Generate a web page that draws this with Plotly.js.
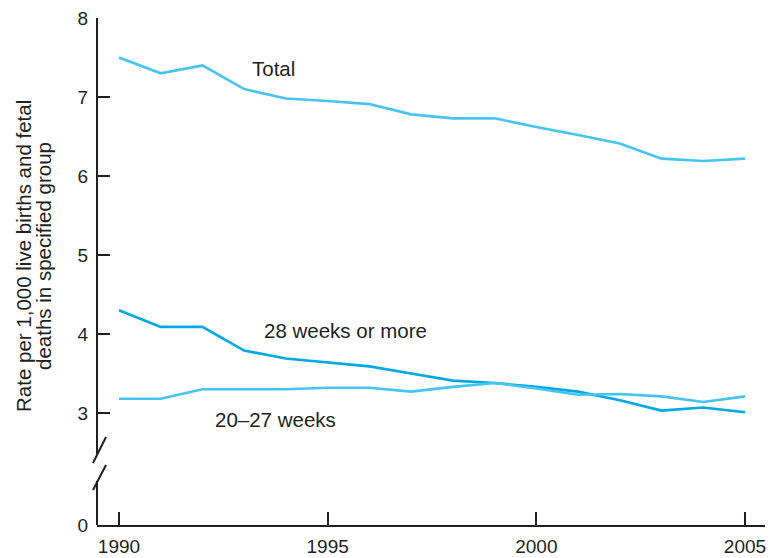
<!DOCTYPE html>
<html>
<head>
<meta charset="utf-8">
<script src="https://cdn.plot.ly/plotly-3.0.1.min.js"></script>
<style>
  html, body { margin: 0; padding: 0; background: #ffffff; }
  #chart { width: 770px; height: 558px; }
</style>
</head>
<body>
<div id="chart"></div>
<script>
// ---- data ----
const years = [1990, 1991, 1992, 1993, 1994, 1995, 1996, 1997, 1998, 1999, 2000, 2001, 2002, 2003, 2004, 2005];
const total = [7.50, 7.30, 7.40, 7.10, 6.98, 6.95, 6.91, 6.78, 6.73, 6.73, 6.62, 6.52, 6.41, 6.22, 6.19, 6.22];
const weeks28plus = [4.30, 4.09, 4.09, 3.79, 3.69, 3.64, 3.59, 3.50, 3.41, 3.38, 3.33, 3.27, 3.16, 3.03, 3.07, 3.01];
const weeks20to27 = [3.18, 3.18, 3.30, 3.30, 3.30, 3.32, 3.32, 3.27, 3.33, 3.38, 3.31, 3.23, 3.24, 3.21, 3.14, 3.21];

const seriesNames = ["Total", "28 weeks or more", "20\u201327 weeks"];
const xTickVals = [1990, 1995, 2000, 2005];
const xTickText = ["1990", "1995", "2000", "2005"];
// broken y axis: "0" is drawn just below the break
const zeroPos = 1.582;
const yTickVals = [zeroPos, 3, 4, 5, 6, 7, 8];
const yTickText = ["0", "3", "4", "5", "6", "7", "8"];
const yTitleLines = ["Rate per 1,000 live births and fetal", "deaths in specified group"];

const light = "#45C4F1";
const dark = "#00A8E6";
const ink = "#231F20";
const fontFam = "Liberation Sans, Arial, Helvetica, sans-serif";

const traces = [
  { x: years, y: total, name: seriesNames[0], mode: "lines", line: { color: light, width: 2.6 } },
  { x: years, y: weeks28plus, name: seriesNames[1], mode: "lines", line: { color: dark, width: 2.6 } },
  { x: years, y: weeks20to27, name: seriesNames[2], mode: "lines", line: { color: light, width: 2.6 } }
];

// plot-area geometry helpers (paper coords)
const L = 97, R = 765, T = 18, B = 525;
const px = v => (v - L) / (R - L);
const py = v => (B - v) / (B - T);

const axisLine = { color: ink, width: 2 };
const shapes = [
  { type: "line", xref: "paper", yref: "paper", x0: 0, x1: 0, y0: py(T), y1: py(454), line: axisLine },
  { type: "line", xref: "paper", yref: "paper", x0: 0, x1: 0, y0: py(481), y1: py(B), line: axisLine },
  { type: "line", xref: "paper", yref: "paper", x0: px(93), x1: px(106), y0: py(463), y1: py(437), line: axisLine },
  { type: "line", xref: "paper", yref: "paper", x0: px(93), x1: px(106), y0: py(490), y1: py(465), line: axisLine }
];

const annotations = [
  { x: 1993.14, y: 7.36, xref: "x", yref: "y", text: seriesNames[0], showarrow: false, xanchor: "left", yanchor: "middle", font: { size: 20.5, color: ink, family: fontFam } },
  { x: 1993.43, y: 4.05, xref: "x", yref: "y", text: seriesNames[1], showarrow: false, xanchor: "left", yanchor: "middle", font: { size: 20.5, color: ink, family: fontFam } },
  { x: 1992.26, y: 2.92, xref: "x", yref: "y", text: seriesNames[2], showarrow: false, xanchor: "left", yanchor: "middle", font: { size: 20.5, color: ink, family: fontFam } },
  { x: px(24), y: py(256), xref: "paper", yref: "paper", text: yTitleLines[0], textangle: -90, showarrow: false, xanchor: "center", yanchor: "middle", font: { size: 20.5, color: ink, family: fontFam } },
  { x: px(44), y: py(256), xref: "paper", yref: "paper", text: yTitleLines[1], textangle: -90, showarrow: false, xanchor: "center", yanchor: "middle", font: { size: 20.5, color: ink, family: fontFam } }
];

const layout = {
  width: 770,
  height: 558,
  margin: { l: L, r: 770 - R, t: T, b: 558 - B, pad: 0 },
  paper_bgcolor: "#ffffff",
  plot_bgcolor: "#ffffff",
  showlegend: false,
  font: { family: fontFam, color: ink, size: 19 },
  xaxis: {
    range: [1989.473, 2005.479],
    tickmode: "array",
    tickvals: xTickVals,
    ticktext: xTickText,
    ticks: "inside",
    ticklen: 13,
    tickwidth: 2,
    tickcolor: ink,
    showline: true,
    linecolor: ink,
    linewidth: 2,
    showgrid: false,
    zeroline: false,
    ticklabelstandoff: 3,
    tickfont: { size: 19, color: ink, family: fontFam }
  },
  yaxis: {
    range: [zeroPos, 8],
    tickmode: "array",
    tickvals: yTickVals,
    ticktext: yTickText,
    ticks: "inside",
    ticklen: 13,
    tickwidth: 2,
    tickcolor: ink,
    showline: false,
    showgrid: false,
    zeroline: false,
    ticklabelstandoff: 8,
    tickfont: { size: 19, color: ink, family: fontFam }
  },
  shapes: shapes,
  annotations: annotations
};

Plotly.newPlot("chart", traces, layout, { displayModeBar: false, staticPlot: true });
</script>
</body>
</html>
